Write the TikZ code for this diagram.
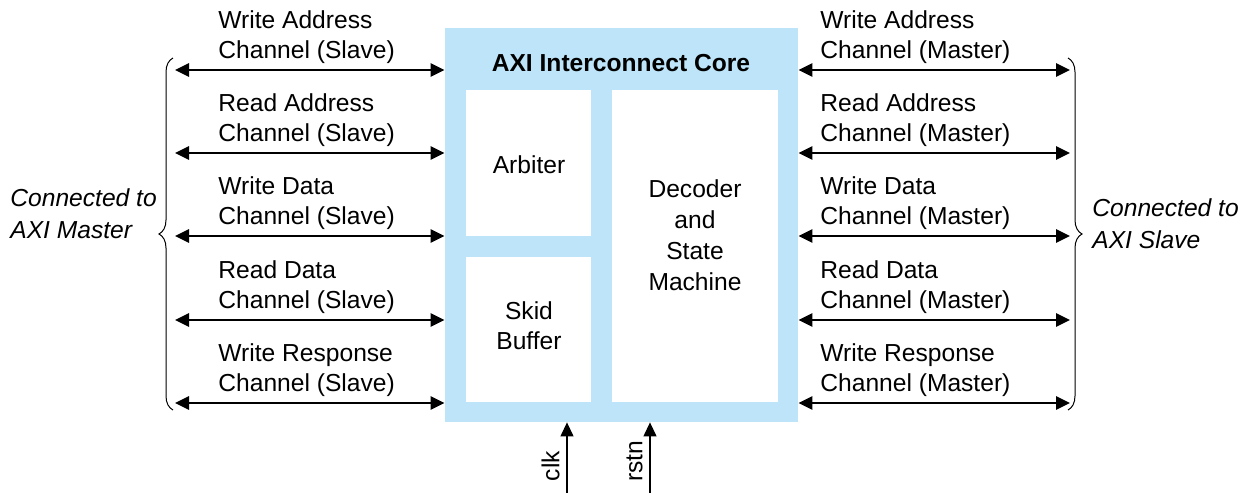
\documentclass[tikz,border=0pt]{standalone}
\usepackage{fontspec}
\setmainfont{Liberation Sans}
\usetikzlibrary{arrows.meta,positioning,decorations.pathreplacing}
\definecolor{coreblue}{RGB}{189,228,248}

\begin{document}
\begin{tikzpicture}[
  x=0.5pt,y=-0.5pt,
  font=\fontsize{12.3}{15}\selectfont,
  core/.style={fill=coreblue,minimum width=176.5pt,minimum height=197pt,inner sep=0pt},
  blk/.style={fill=white,align=center,inner sep=0pt},
  lbl/.style={align=left,anchor=west,inner sep=0pt},
  chan/.style={{Triangle[length=7pt,width=6.5pt]}-{Triangle[length=7pt,width=6.5pt]},line width=1.3pt},
  sig/.style={-{Triangle[length=7pt,width=6.5pt]},line width=0.6pt},
  brc/.style={decorate,decoration={brace,amplitude=7pt},line width=0.5pt}
]
  \useasboundingbox (0,0) rectangle (1250,493);

  % core and its blocks
  \node[core] (core) at (621.5,225) {};
  \node[font=\fontsize{12.3}{15}\selectfont\bfseries] (title) at (621,63) {AXI Interconnect Core};
  \node[blk,minimum width=62.5pt,minimum height=73pt] (arb) at (528.5,163) {};
  \node[blk,minimum width=62.5pt,minimum height=72.5pt] (skid) at (528.5,329.5) {};
  \node[blk,minimum width=83pt,minimum height=156pt] (dec) at (695,246) {};
  \node[align=center,inner sep=0pt] (arbtxt) at (529,165) {Arbiter};
  \node[align=center,inner sep=0pt] (skidtxt) at (529,326) {Skid\\Buffer};
  \node[align=center,inner sep=0pt,font=\fontsize{12.3}{15.5}\selectfont] (dectxt) at (695,235) {Decoder\\and\\State\\Machine};

  % slave side (left)
  \coordinate (m1) at (175,70);
  \coordinate (m2) at (175,153);
  \coordinate (m3) at (175,236);
  \coordinate (m4) at (175,320);
  \coordinate (m5) at (175,403);
  \draw[chan] (m1) -- (core.west |- m1);
  \draw[chan] (m2) -- (core.west |- m2);
  \draw[chan] (m3) -- (core.west |- m3);
  \draw[chan] (m4) -- (core.west |- m4);
  \draw[chan] (m5) -- (core.west |- m5);
  \node[lbl] (lw1) at (218,37) {Write Address\\Channel (Slave)};
  \node[lbl] (lw2) at (218,120) {Read Address\\Channel (Slave)};
  \node[lbl] (lw3) at (218,203) {Write Data\\Channel (Slave)};
  \node[lbl] (lw4) at (218,287) {Read Data\\Channel (Slave)};
  \node[lbl] (lw5) at (218,370) {Write Response\\Channel (Slave)};

  % master side (right)
  \coordinate (s1) at (1070,70);
  \coordinate (s2) at (1070,153);
  \coordinate (s3) at (1070,236);
  \coordinate (s4) at (1070,320);
  \coordinate (s5) at (1070,403);
  \draw[chan] (core.east |- s1) -- (s1);
  \draw[chan] (core.east |- s2) -- (s2);
  \draw[chan] (core.east |- s3) -- (s3);
  \draw[chan] (core.east |- s4) -- (s4);
  \draw[chan] (core.east |- s5) -- (s5);
  \node[lbl] (rw1) at (820,37) {Write Address\\Channel (Master)};
  \node[lbl] (rw2) at (820,120) {Read Address\\Channel (Master)};
  \node[lbl] (rw3) at (820,203) {Write Data\\Channel (Master)};
  \node[lbl] (rw4) at (820,287) {Read Data\\Channel (Master)};
  \node[lbl] (rw5) at (820,370) {Write Response\\Channel (Master)};

  % braces
  \draw[brc] (173,410) -- (173,58);
  \draw[brc] (1068,58) -- (1068,410);
  \node[lbl,font=\fontsize{12.3}{16}\selectfont\itshape] (mst) at (10,214) {Connected to\\AXI Master};
  \node[lbl,font=\fontsize{12.3}{16}\selectfont\itshape] (slv) at (1092,224) {Connected to\\AXI Slave};

  % clock and reset
  \coordinate (clkin) at (567,493);
  \coordinate (rstin) at (650,493);
  \draw[sig] (clkin) -- (core.south -| clkin);
  \draw[sig] (rstin) -- (core.south -| rstin);
  \node[rotate=90,anchor=south,inner sep=0pt] (clk) at (560,466) {clk};
  \node[rotate=90,anchor=south,inner sep=0pt] (rstn) at (643,461) {rstn};
\end{tikzpicture}
\end{document}
